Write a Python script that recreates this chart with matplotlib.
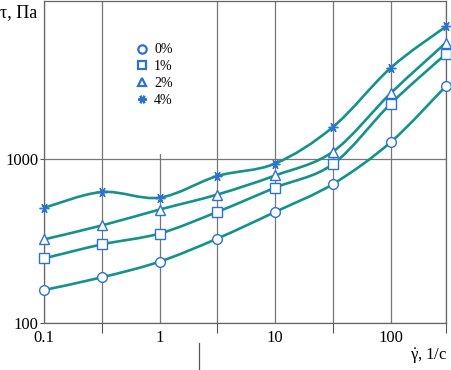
import numpy as np
import matplotlib.pyplot as plt
from matplotlib.path import Path
from matplotlib.patches import PathPatch, Rectangle
from matplotlib.lines import Line2D

plt.rcParams['font.family'] = ['Liberation Serif', 'DejaVu Serif']
plt.rcParams['mathtext.fontset'] = 'custom'
plt.rcParams['mathtext.rm'] = 'Liberation Serif'
plt.rcParams['mathtext.it'] = 'Liberation Serif'

# shear rate, 1/s (points sit on the half-decade grid lines)
shear_rate = [0.1, 0.316, 1, 3.16, 10, 31.6, 100, 300]

# shear stress, Pa
stress_0 = [159, 190, 237, 328, 477, 706, 1274, 2800]
stress_1 = [248, 302, 352, 477, 671, 935, 2188, 4400]
stress_2 = [324, 394, 493, 609, 796, 1114, 2535, 5150]
stress_4 = [505, 631, 583, 790, 942, 1574, 3622, 6470]

series_labels = ["0%", "1%", "2%", "4%"]
series_markers = ["o", "s", "^", (6, 2, 90)]

LINE_COLOR = "#15928a"
MARKER_COLOR = "#2b72d6"


def smooth_path(x, y):
    # Catmull-Rom style bezier through the points, built in log-log space
    lx = np.log10(x)
    ly = np.log10(y)
    pts = np.column_stack([lx, ly])
    padded = np.vstack([pts[0], pts, pts[-1]])
    verts = [pts[0]]
    codes = [Path.MOVETO]
    for i in range(len(pts) - 1):
        p0, p1, p2, p3 = padded[i], padded[i + 1], padded[i + 2], padded[i + 3]
        c1 = p1 + (p2 - p0) / 6
        c2 = p2 - (p3 - p1) / 6
        verts += [c1, c2, p2]
        codes += [Path.CURVE4] * 3
    verts = 10 ** np.array(verts)
    return Path(verts, codes)


fig = plt.figure(figsize=(4.51, 3.70), dpi=100)
ax = fig.add_axes([44 / 451, 47 / 370, 402 / 451, 322.5 / 370])
ax.set_xscale("log")
ax.set_yscale("log")

all_series = [stress_0, stress_1, stress_2, stress_4]
handles = []
for values, label, marker in zip(all_series, series_labels, series_markers):
    patch = PathPatch(smooth_path(shear_rate, values), fill=False,
                      edgecolor=LINE_COLOR, linewidth=1.9, zorder=3)
    ax.add_patch(patch)
    ax.plot(shear_rate, values, linestyle="none", marker=marker,
            markersize=7, markerfacecolor="white", markeredgecolor=MARKER_COLOR,
            markeredgewidth=1.0, zorder=4, clip_on=False)
    handles.append(Line2D([], [], linestyle="none", marker=marker, markersize=6,
                          markerfacecolor="white", markeredgecolor=MARKER_COLOR,
                          markeredgewidth=1.6, label=label))

ax.set_xlim(0.1, 300)
ax.set_ylim(100, 10 ** (3 + 159 / 164))

ax.set_xticks([0.1, 1, 10, 100])
ax.set_xticklabels(["0.1", "1", "10", "100"])
ax.set_xticks([0.316, 3.16, 31.6, 300], minor=True)
ax.set_xticklabels([], minor=True)
ax.set_yticks([100, 1000])
ax.set_yticklabels(["100", "1000"])
ax.set_yticks([], minor=True)

ax.tick_params(axis="x", which="major", length=0, pad=5, labelsize=12)
ax.tick_params(axis="x", which="minor", length=7, width=0.8, color="#555555")
ax.tick_params(axis="y", which="major", length=3, width=0.8, pad=1, labelsize=12,
               color="#555555")

ax.grid(True, which="both", axis="x", color="#777777", linewidth=0.9)
ax.grid(True, which="major", axis="y", color="#777777", linewidth=0.9)
ax.set_axisbelow(True)
for spine in ax.spines.values():
    spine.set_color("#666666")
    spine.set_linewidth(0.9)

# white patch behind the legend hides the grid there
ax.add_patch(Rectangle((0.19, 0.525), 0.23, 0.475, transform=ax.transAxes,
                       facecolor="white", edgecolor="none", zorder=1.5))

ax.legend(handles=handles, loc="upper left", bbox_to_anchor=(0.215, 0.884),
          frameon=False, fontsize=10, handlelength=0.8, handletextpad=0.5,
          labelspacing=0.28, borderaxespad=0)

fig.text(0.0, 1 - 13 / 370, "τ, Па", fontsize=13, ha="left", va="center")
fig.text(447 / 451, 1 - 356 / 370, r"$\dot{\mathrm{\gamma}}$, 1/с", fontsize=12,
         ha="right", va="center")

# stray tick below the axis seen in the original
fig.add_artist(Line2D([199 / 451, 199 / 451], [0, 27 / 370], color="#555555",
                      linewidth=0.9))

fig.savefig("out.png", dpi=100)
